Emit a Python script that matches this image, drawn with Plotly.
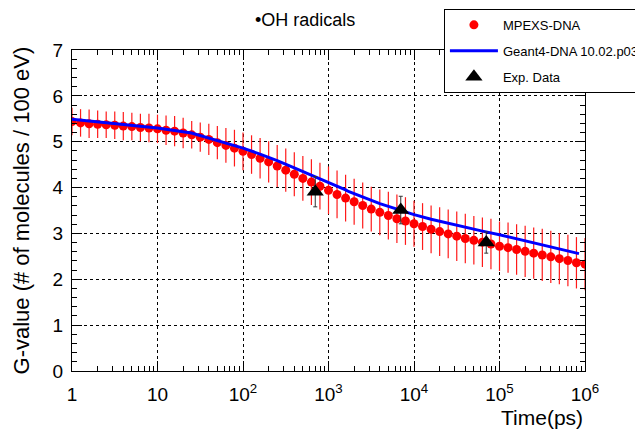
import plotly.graph_objects as go

# ---------------- data ----------------
mpexs_time = [1, 1.259, 1.585, 1.995, 2.512, 3.162, 3.981, 5.012, 6.310, 7.943,
              10, 12.59, 15.85, 19.95, 25.12, 31.62, 39.81, 50.12, 63.10, 79.43,
              100, 125.9, 158.5, 199.5, 251.2, 316.2, 398.1, 501.2, 631.0, 794.3,
              1000, 1259, 1585, 1995, 2512, 3162, 3981, 5012, 6310, 7943,
              10000, 12589, 15849, 19953, 25119, 31623, 39811, 50119, 63096, 79433,
              100000, 125893, 158489, 199526, 251189, 316228, 398107, 501187, 630957, 794328,
              1000000]
mpexs_g = [5.44, 5.41, 5.39, 5.38, 5.37, 5.36, 5.34, 5.33, 5.31, 5.30,
           5.28, 5.25, 5.23, 5.19, 5.15, 5.10, 5.05, 4.98, 4.92, 4.86,
           4.79, 4.72, 4.64, 4.56, 4.47, 4.38, 4.29, 4.20, 4.12, 4.03,
           3.94, 3.85, 3.77, 3.69, 3.61, 3.53, 3.46, 3.39, 3.32, 3.27,
           3.21, 3.15, 3.09, 3.04, 2.99, 2.94, 2.89, 2.85, 2.81, 2.77,
           2.72, 2.69, 2.65, 2.61, 2.57, 2.53, 2.49, 2.45, 2.41, 2.36,
           2.33]
mpexs_err = [0.30, 0.30, 0.31, 0.30, 0.29, 0.30, 0.31, 0.30, 0.30, 0.31,
             0.31, 0.32, 0.33, 0.33, 0.30, 0.32, 0.34, 0.36, 0.38, 0.40,
             0.41, 0.42, 0.44, 0.45, 0.46, 0.47, 0.48, 0.49, 0.50, 0.51,
             0.52, 0.52, 0.51, 0.50, 0.50, 0.49, 0.50, 0.52, 0.53, 0.52,
             0.50, 0.51, 0.52, 0.53, 0.53, 0.54, 0.54, 0.53, 0.54, 0.55,
             0.54, 0.55, 0.55, 0.56, 0.56, 0.57, 0.57, 0.56, 0.56, 0.56,
             0.57]

geant4_time = [1, 3.16, 10, 25, 40, 63, 100, 158, 251, 398, 447, 631, 1000, 1585,
               1738, 2512, 3981, 6607, 10000, 15849, 25119, 39811, 63096, 100000,
               158489, 251189, 398107, 630957, 850000]
geant4_g = [5.49, 5.40, 5.30, 5.19, 5.08, 4.98, 4.86, 4.73, 4.59, 4.43, 4.39, 4.27, 4.12, 3.95,
            3.91, 3.79, 3.65, 3.52, 3.41, 3.31, 3.22, 3.13, 3.05, 2.97,
            2.88, 2.79, 2.70, 2.62, 2.56]

exp_time = [700, 7000, 70000]
exp_g = [3.91, 3.51, 2.80]
exp_err = [0.33, 0.30, 0.23]

x_tickvals = [1, 10, 100, 1000, 10000, 100000, 1000000]
x_ticktext = ["1", "10", "10<sup>2</sup>", "10<sup>3</sup>", "10<sup>4</sup>",
              "10<sup>5</sup>", "10<sup>6</sup>"]
y_tickvals = [0, 1, 2, 3, 4, 5, 6, 7]

FONT = "Liberation Sans, Arial, Helvetica, sans-serif"

fig = go.Figure()

fig.add_trace(go.Scatter(
    x=mpexs_time, y=mpexs_g, mode="markers", name="MPEXS-DNA",
    marker=dict(color="#ff0000", size=9, symbol="circle"),
    error_y=dict(type="data", array=mpexs_err, color="#ff1a1a", thickness=1.2, width=0),
    legendgroup="a",
))
fig.add_trace(go.Scatter(
    x=geant4_time, y=geant4_g, mode="lines", name="Geant4-DNA 10.02.p03",
    line=dict(color="#0000ff", width=3), legendgroup="b",
))
fig.add_trace(go.Scatter(
    x=exp_time, y=exp_g, mode="markers", name="Exp. Data",
    marker=dict(color="black", size=15, symbol="triangle-up"),
    error_y=dict(type="data", array=exp_err, color="#333333", thickness=1, width=2),
    legendgroup="c",
))

axis_common = dict(
    showline=True, linecolor="black", linewidth=1, mirror="allticks",
    ticks="inside", tickcolor="black", ticklen=10,
    showgrid=True, gridcolor="black", griddash="dot", gridwidth=1,
    zeroline=False,
    tickfont=dict(family=FONT, size=19, color="black"),
)

fig.update_xaxes(
    type="log", range=[0, 6], tickmode="array",
    tickvals=x_tickvals, ticktext=x_ticktext,
    minor=dict(ticks="inside", ticklen=5, tickcolor="black", dtick="D1", showgrid=False),
    ticklabelstandoff=6,
    **axis_common,
)
fig.update_yaxes(
    range=[0, 7], tickmode="array", tickvals=y_tickvals,
    minor=dict(ticks="inside", ticklen=5, tickcolor="black", dtick=0.2, showgrid=False),
    ticklabelstandoff=4,
    **axis_common,
)

fig.update_layout(
    width=635, height=433,
    margin=dict(l=72, r=50, t=50, b=62, autoexpand=False),
    plot_bgcolor="white", paper_bgcolor="white",
    showlegend=True,
    legend=dict(
        x=0.725, y=1.128, xanchor="left", yanchor="top",
        bgcolor="white", bordercolor="black", borderwidth=1,
        font=dict(family=FONT, size=13, color="black"),
        traceorder="grouped", tracegroupgap=6, itemwidth=48,
    ),
    annotations=[
        dict(text="•OH radicals", xref="paper", yref="paper", x=0.454, y=1.093,
             xanchor="center", yanchor="middle", showarrow=False,
             font=dict(family=FONT, size=18, color="black")),
        dict(text="Time(ps)", xref="paper", yref="paper", x=1.0, y=-0.146,
             xanchor="right", yanchor="middle", showarrow=False,
             font=dict(family=FONT, size=21, color="black")),
        dict(text="G-value (# of molecules / 100 eV)", xref="paper", yref="paper",
             x=-0.0975, y=0.5, xanchor="center", yanchor="middle", textangle=-90,
             showarrow=False, font=dict(family=FONT, size=22, color="black")),
    ],
)

fig.write_html("out.html")
